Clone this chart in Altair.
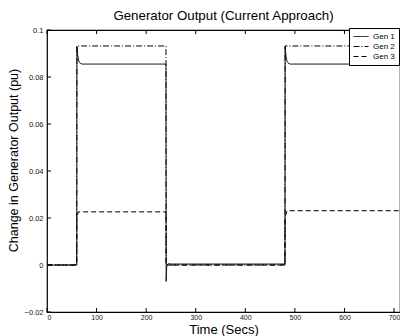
import altair as alt
import pandas as pd

# Step responses of the three generators (time in seconds, change in pu)
gen1_t = [0, 60, 60.3, 62, 64, 67, 71, 240, 240.3, 241.5, 244, 250, 480, 480.3, 482, 484, 487, 491, 712]
gen1_v = [0, 0, 0.093, 0.089, 0.0868, 0.0858, 0.0855, 0.0855, -0.007, -0.0005, 0.0005, 0.0004, 0.0004,
          0.093, 0.089, 0.0868, 0.0858, 0.0855, 0.0855]

gen2_t = [0, 60, 60.3, 240, 240.3, 480, 480.3, 712]
gen2_v = [0, 0, 0.0932, 0.0932, 0, 0, 0.0932, 0.0932]

gen3_t = [0, 60, 60.3, 63, 240, 240.3, 480, 480.3, 484, 712]
gen3_v = [0, 0, 0.0205, 0.0226, 0.0226, 0, 0, 0.0205, 0.0231, 0.0231]

series_names = ["Gen 1", "Gen 2", "Gen 3"]
x_ticks = [0, 100, 200, 300, 400, 500, 600, 700]
y_ticks = [-0.02, 0, 0.02, 0.04, 0.06, 0.08, 0.1]

rows = []
for name, ts, vs in zip(series_names, [gen1_t, gen2_t, gen3_t], [gen1_v, gen2_v, gen3_v]):
    for i, (t, v) in enumerate(zip(ts, vs)):
        rows.append({"gen": name, "t": t, "v": v, "idx": i})
df = pd.DataFrame(rows)

W, H = 353, 282
FONT = "Liberation Sans"

x_scale = alt.Scale(domain=[0, 712], nice=False, zero=False)
y_scale = alt.Scale(domain=[-0.02, 0.1], nice=False, zero=False)

# Legend swatch: a flat line wider than its row height
LEGEND_LINE = "M-1,0L2.75,0"

lines = alt.Chart(df).mark_line(strokeWidth=1, color="black", clip=True).encode(
    x=alt.X("t:Q", scale=x_scale,
            axis=alt.Axis(values=x_ticks, ticks=False, domain=False, grid=False,
                          labelFontSize=7, labelPadding=1, labelColor="#111",
                          title="Time (Secs)", titleFontSize=13, titleFontWeight="normal",
                          titleBaseline="alphabetic", titleY=21, titleColor="black")),
    y=alt.Y("v:Q", scale=y_scale,
            axis=alt.Axis(values=y_ticks, format="~g", ticks=False, domain=False, grid=False,
                          labelFontSize=7.5, labelPadding=4, labelColor="#111",
                          title="Change in Generator Output (pu)", titleFontSize=12.5,
                          titleFontWeight="normal", titlePadding=4, titleY=130,
                          titleColor="black")),
    strokeDash=alt.StrokeDash(
        "gen:N",
        scale=alt.Scale(domain=series_names, range=[[1, 0], [6, 2, 1, 2], [5, 3]]),
        legend=alt.Legend(title=None, orient="none", legendX=302, legendY=-2,
                          fillColor="white", strokeColor="black", padding=4,
                          symbolType=LEGEND_LINE, symbolSize=64, symbolStrokeWidth=1,
                          symbolStrokeColor="black", labelFontSize=8, rowPadding=1,
                          labelOffset=11, labelFont=FONT)),
    order=alt.Order("idx:Q"),
)

xt = pd.DataFrame({"x": x_ticks})
yt = pd.DataFrame({"y": y_ticks})

# Inward tick marks on the frame
bottom_ticks = alt.Chart(xt).mark_rule(color="black", strokeWidth=1).encode(
    x=alt.X("x:Q", scale=x_scale), y=alt.value(H), y2=alt.value(H - 4))
top_ticks = alt.Chart(xt).mark_rule(color="black", strokeWidth=1).encode(
    x=alt.X("x:Q", scale=x_scale), y=alt.value(0), y2=alt.value(4))
left_ticks = alt.Chart(yt).mark_rule(color="black", strokeWidth=1).encode(
    y=alt.Y("y:Q", scale=y_scale), x=alt.value(0), x2=alt.value(4))

chart = alt.layer(bottom_ticks, top_ticks, left_ticks, lines).properties(
    width=W, height=H,
    title=alt.Title("Generator Output (Current Approach)", fontSize=13.3, fontWeight="normal",
                    font=FONT, color="black", offset=4),
    autosize=alt.AutoSizeParams(type="none"),
    padding={"left": 47, "top": 30, "right": 0, "bottom": 24},
    background="white",
).configure_view(stroke="black", strokeWidth=1.2).configure_axis(
    labelFont=FONT, titleFont=FONT
).configure_legend(labelFont=FONT)

chart.save("out.html", embed_options={"renderer": "svg", "actions": False})
